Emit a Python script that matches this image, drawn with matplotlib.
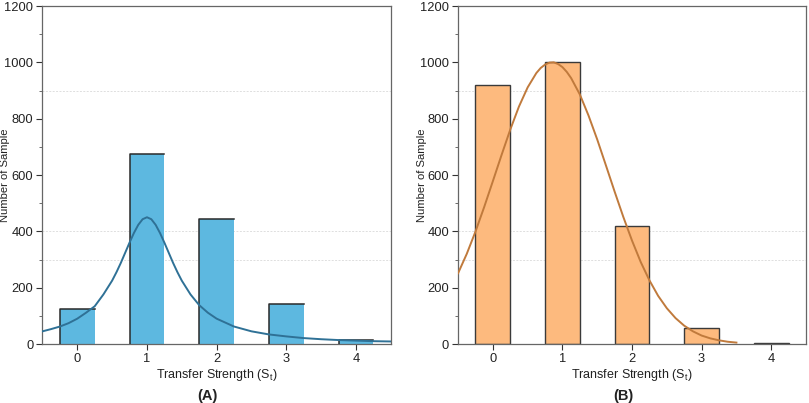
import numpy as np
import matplotlib.pyplot as plt

plt.rcParams['font.family'] = ['Liberation Sans', 'DejaVu Sans']

# 数据
strength = [0, 1, 2, 3, 4]
count_a = [125, 675, 445, 143, 15]
count_b = [920, 1000, 420, 58, 5]

# 拟合曲线 (A)
fit_a_x = [-0.5, -0.375, -0.25, -0.125, 0, 0.125, 0.25, 0.375, 0.5, 0.5625, 0.625, 0.6875,
           0.75, 0.8125, 0.875, 0.9375, 1, 1.0625, 1.125, 1.1875, 1.25, 1.3125, 1.375, 1.4375,
           1.5, 1.625, 1.75, 1.875, 2, 2.25, 2.5, 2.75, 3, 3.25, 3.5, 3.75, 4, 4.25, 4.5]
fit_a_y = [45, 53, 62, 74, 90, 111, 134, 176, 225, 255, 288, 324,
           360, 394, 423, 443, 450, 443, 423, 394, 360, 324, 288, 255,
           225, 176, 138, 111, 90, 62, 45, 34, 27, 21, 17, 14, 12, 10, 9]

# 拟合曲线 (B)
fit_b_x = [-0.5, -0.375, -0.25, -0.125, 0, 0.125, 0.25, 0.375, 0.5, 0.625, 0.6875, 0.75,
           0.8125, 0.875, 0.9375, 1, 1.0625, 1.125, 1.25, 1.375, 1.5, 1.625, 1.75, 1.875,
           2, 2.125, 2.25, 2.375, 2.5, 2.625, 2.75, 2.875, 3, 3.125, 3.25, 3.375, 3.5]
fit_b_y = [251, 320, 399, 486, 578, 671, 761, 843, 911, 962, 980, 992,
           999, 1000, 994, 983, 966, 944, 886, 811, 726, 634, 541, 451,
           367, 291, 226, 171, 127, 92, 65, 45, 30, 20, 13, 8, 5]

guide_levels = [900, 400, 300]


def style_axes(ax, panel, label_x):
    ax.set_xlim(-0.5, 4.5)
    ax.set_ylim(0, 1200)
    ax.set_xticks(strength)
    ax.set_yticks(np.arange(0, 1201, 200))
    ax.set_yticks(np.arange(100, 1200, 200), minor=True)
    ax.tick_params(axis='both', which='major', direction='out', length=4, width=0.8, pad=2.5,
                   labelsize=9.3, colors='#333333', labelcolor='#222222')
    ax.tick_params(axis='y', which='minor', direction='out', length=2, width=0.6, colors='#555555')
    for s in ax.spines.values():
        s.set_color('#666666')
        s.set_linewidth(0.9)
    for lv in guide_levels:
        ax.axhline(lv, color='#dedede', lw=0.7, ls=(0, (2, 1.5)), zorder=0)
    ax.set_ylabel('Number of Sample', fontsize=8.1, color='#222222')
    ax.yaxis.set_label_coords(label_x, 0.5)
    ax.set_xlabel('Transfer Strength (S$_\\mathregular{t}$)', fontsize=9, color='#222222', labelpad=1.5)
    ax.text(0.475, -0.166, panel, transform=ax.transAxes, ha='center', va='baseline',
            fontsize=10.5, fontweight='bold', color='#222222')


fig = plt.figure(figsize=(8.09, 4.03), dpi=100)
ax1 = fig.add_axes([0.0525, 0.1464, 0.4305, 0.8387])
ax2 = fig.add_axes([0.5662, 0.1464, 0.4301, 0.8387])

# (A)
ax1.bar(strength, count_a, width=0.5, color='#5db8e0', edgecolor='none', zorder=2)
for x, v in zip(strength, count_a):
    ax1.plot([x - 0.25, x - 0.25, x + 0.25], [0, v, v], color='#2a2a2a', lw=1.1, zorder=3)
ax1.plot(fit_a_x, fit_a_y, color='#2f7196', lw=1.4, zorder=4)
style_axes(ax1, '(A)', -0.093)

# (B)
ax2.bar(strength, count_b, width=0.5, color='#fdba7e', edgecolor='#3a3a3a', lw=1.0, zorder=2)
ax2.plot(fit_b_x, fit_b_y, color='#c07a3c', lw=1.4, zorder=4)
style_axes(ax2, '(B)', -0.090)

plt.savefig('out.png', dpi=100)
